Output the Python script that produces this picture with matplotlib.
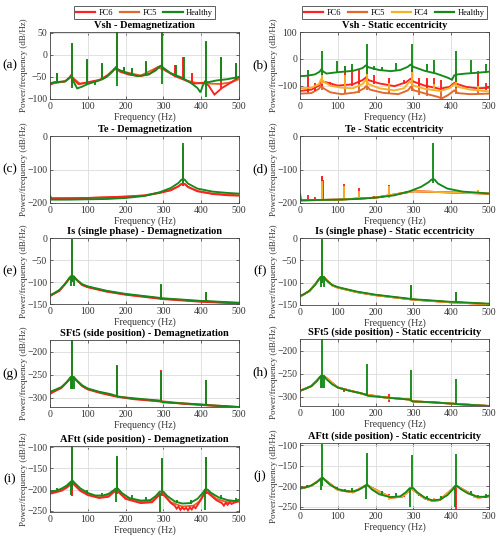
import matplotlib
matplotlib.use("Agg")
import matplotlib.pyplot as plt
from matplotlib.lines import Line2D

plt.rcParams['font.family'] = ['Liberation Serif', 'DejaVu Serif']

# ---------------- data (frequency Hz, dB/Hz) ----------------
SERIES_A = ["FC6", "FC5", "Healthy"]
SERIES_B = ["FC6", "FC5", "FC4", "Healthy"]
XTICKS = [0, 100, 200, 300, 400, 500]

# (a) Vsh - Demagnetization
a_fc6 = [(0,-68),(10,-63),(40,-60),(52,-52),(56,-45),(62,-55),(75,-66),(100,-62),(130,-57),(155,-45),(170,-33),(176,-30),(185,-38),(210,-45),(240,-48),(265,-42),(285,-28),(293,-25),(305,-35),(330,-48),(360,-58),(380,-65),(410,-63),(420,-70),(435,-90),(455,-75),(480,-62),(500,-50)]
a_fc6_spk = [(19,-62,-42),(59,-70,25),(99,-62,-12),(137,-58,-20),(177,-40,52),(196,-40,-27),(217,-48,-32),(255,-45,-13),(295,-35,52),(332,-48,-22),(352,-55,-5),(375,-65,-40),(413,-70,32),(452,-78,-5),(491,-58,-18)]
a_fc5 = [(0,-66),(40,-60),(55,-48),(65,-55),(80,-66),(100,-63),(140,-55),(170,-32),(185,-36),(240,-47),(285,-28),(305,-35),(340,-50),(360,-58),(370,-60),(390,-64),(420,-65),(450,-66),(480,-62),(500,-55)]
a_fc5_spk = [(59,-60,20),(177,-40,45),(295,-35,45),(375,-60,-42),(413,-65,25)]
a_hea = [(0,-65),(10,-62),(40,-60),(52,-52),(56,-47),(62,-60),(72,-76),(85,-72),(100,-66),(130,-58),(150,-50),(165,-38),(174,-28),(180,-33),(200,-40),(230,-48),(260,-45),(280,-35),(292,-25),(298,-28),(320,-42),(350,-52),(375,-65),(390,-75),(398,-85),(404,-70),(410,-60),(418,-62),(440,-58),(470,-55),(500,-50)]
a_hea_spk = [(19,-62,-42),(59,-75,27),(99,-66,-10),(118,-68,-62),(137,-58,-18),(177,-70,55),(196,-40,-27),(217,-45,-30),(255,-45,-15),(295,-65,55),(334,-50,-22),(354,-55,-5),(413,-95,30),(452,-58,-5),(491,-55,-18)]

# (b) Vsh - Static eccentricity
b_fc6 = [(0,-120),(30,-115),(50,-100),(56,-85),(62,-85),(75,-90),(100,-100),(140,-95),(165,-80),(174,-70),(182,-80),(210,-92),(250,-102),(280,-88),(292,-75),(300,-85),(330,-100),(370,-112),(395,-105),(408,-90),(418,-95),(440,-105),(470,-110),(500,-108)]
b_fc6_spk = [(20,-125,-60),(39,-120,-90),(59,-100,-40),(79,-100,-85),(118,-100,-25),(138,-100,-35),(157,-95,-40),(177,-100,-15),(197,-95,-60),(236,-105,-70),(275,-95,-80),(295,-100,-40),(315,-105,-70),(335,-108,-70),(354,-110,-70),(374,-115,-80),(413,-110,-45),(472,-115,-45),(492,-115,-90)]
b_fc5 = [(0,-130),(30,-128),(50,-112),(56,-100),(62,-110),(80,-125),(110,-132),(150,-125),(170,-110),(176,-100),(185,-115),(220,-127),(260,-132),(285,-118),(293,-105),(302,-118),(340,-133),(365,-142),(375,-148),(392,-135),(408,-118),(418,-128),(450,-132),(500,-130)]
b_fc5_spk = [(20,-132,-70),(59,-115,-60),(118,-130,-50),(157,-128,-80),(177,-115,-40),(236,-130,-70),(295,-120,-55),(315,-135,-80),(335,-138,-75),(374,-150,-110),(413,-130,-60),(472,-132,-50)]
b_fc4 = [(0,-110),(30,-108),(50,-95),(56,-75),(62,-85),(80,-100),(110,-108),(140,-110),(165,-95),(174,-80),(182,-95),(210,-110),(250,-118),(275,-110),(290,-85),(300,-100),(330,-112),(370,-120),(395,-110),(408,-95),(418,-105),(450,-115),(500,-122)]
b_fc4_spk = [(59,-95,-50),(118,-110,-60),(177,-100,-20),(236,-118,-90),(295,-100,-45),(354,-120,-95),(413,-105,-55),(472,-118,-100)]
b_hea = [(0,-65),(20,-63),(40,-58),(52,-48),(56,-40),(62,-48),(70,-55),(100,-50),(140,-45),(165,-35),(174,-25),(182,-32),(210,-42),(240,-46),(265,-42),(285,-30),(292,-22),(300,-30),(330,-45),(360,-55),(390,-70),(402,-78),(408,-62),(418,-58),(440,-55),(470,-52),(500,-48)]
b_hea_spk = [(20,-65,-40),(59,-60,28),(99,-52,-10),(118,-50,-25),(138,-47,-20),(177,-55,55),(197,-40,-27),(217,-45,-30),(255,-45,-15),(295,-50,55),(335,-48,-20),(354,-52,-3),(413,-85,30),(453,-55,-5),(492,-52,-18)]

# (c) Te - Demagnetization
c_fc6 = [(0,-180),(3,-186),(50,-186),(100,-185),(150,-183),(200,-181),(250,-178),(290,-170),(320,-162),(340,-150),(348,-143),(356,-143),(365,-152),(390,-165),(430,-173),(470,-177),(500,-178)]
c_fc6_spk = [(352,-150,-35)]
c_fc5 = [(0,-179),(3,-186),(100,-185),(200,-181),(250,-177),(290,-169),(320,-161),(340,-150),(348,-143),(356,-143),(365,-152),(390,-164),(430,-172),(500,-177)]
c_fc5_spk = [(352,-148,-30)]
c_hea = [(0,-178),(3,-190),(50,-190),(100,-189),(150,-188),(200,-185),(250,-179),(290,-168),(320,-155),(340,-140),(348,-130),(356,-130),(365,-142),(390,-157),(430,-166),(470,-170),(500,-172)]
c_hea_spk = [(1,-190,-176),(352,-140,-20)]

# (d) Te - Static eccentricity
d_fc6 = [(3,-192),(100,-190),(200,-184),(300,-165),(500,-172)]
d_fc6_spk = [(20,-190,-175),(40,-190,-183),(57,-192,-118),(58,-192,-120),(60,-190,-130),(117,-190,-143),(157,-190,-155),(197,-188,-180),(236,-186,-145),(470,-172,-160)]
d_fc5 = [(3,-192),(100,-190),(200,-184),(300,-165),(500,-172)]
d_fc5_spk = [(57,-192,-150),(117,-190,-165),(236,-186,-165),(470,-172,-165)]
d_fc4 = [(3,-192),(100,-190),(200,-184),(300,-165),(500,-172)]
d_fc4_spk = [(57,-192,-135),(59,-192,-140),(117,-190,-150),(157,-190,-165),(236,-186,-150),(470,-172,-162)]
d_hea = [(0,-172),(3,-192),(50,-191),(100,-190),(150,-188),(200,-184),(250,-177),(290,-165),(320,-152),(340,-138),(348,-130),(356,-130),(365,-142),(390,-157),(430,-166),(470,-169),(500,-172)]
d_hea_spk = [(352,-140,-20)]

# (e) Is (single phase) - Demagnetization
e_fc6 = [(0,-132),(25,-120),(50,-94),(55,-89),(63,-89),(85,-107),(100,-112),(150,-122),(200,-129),(250,-134),(300,-139),(400,-145),(500,-149)]
e_fc6_spk = [(59,-100,-5),(294,-140,-107),(412,-146,-124)]
e_fc5 = [(0,-131),(25,-119),(50,-93),(55,-88),(63,-88),(85,-106),(100,-111),(150,-121),(200,-128),(250,-133),(300,-138),(400,-144),(500,-148)]
e_fc5_spk = [(59,-100,-4),(294,-139,-106),(412,-145,-123)]
e_hea = [(0,-130),(10,-126),(25,-118),(40,-105),(50,-92),(55,-87),(63,-87),(70,-95),(85,-105),(100,-110),(150,-120),(200,-127),(250,-132),(290,-136),(298,-137),(350,-140),(400,-143),(410,-143),(450,-145),(500,-147)]
e_hea_spk = [(55,-110,-87),(59,-100,-3),(63,-110,-87),(294,-138,-105),(412,-144,-122)]

# (f) Is (single phase) - Static eccentricity
f_fc6 = [(0,-131),(25,-119),(50,-93),(55,-88),(63,-88),(85,-106),(100,-111),(150,-121),(200,-128),(250,-133),(300,-138),(400,-144),(500,-148)]
f_fc6_spk = [(59,-100,-4),(294,-139,-106),(412,-145,-123)]
f_fc5 = [(0,-131),(25,-119),(50,-93),(55,-88),(63,-88),(85,-106),(100,-111),(150,-121),(200,-128),(250,-133),(300,-138),(400,-144),(500,-148)]
f_fc5_spk = [(59,-100,-4),(294,-139,-106),(412,-145,-123)]
f_fc4 = [(0,-131),(25,-119),(50,-93),(55,-88),(63,-88),(85,-106),(100,-111),(150,-121),(200,-128),(250,-133),(300,-138),(400,-144),(500,-148)]
f_fc4_spk = [(59,-100,-4),(294,-139,-106),(412,-145,-123)]
f_hea = [(0,-130),(10,-126),(25,-118),(40,-105),(50,-92),(55,-87),(63,-87),(70,-95),(85,-105),(100,-110),(150,-120),(200,-127),(250,-132),(290,-136),(298,-137),(350,-140),(400,-143),(410,-143),(450,-145),(500,-147)]
f_hea_spk = [(55,-110,-87),(59,-100,-3),(63,-110,-87),(294,-138,-105),(412,-144,-122)]

# (g) SFt5 (side position) - Demagnetization
g_fc6 = [(0,-292),(10,-287),(30,-279),(52,-260),(55,-257),(63,-257),(85,-275),(100,-282),(130,-289),(172,-297),(220,-303),(290,-308),(350,-313),(500,-321)]
g_fc6_spk = [(59,-280,-172),(176,-298,-232),(294,-309,-240),(412,-317,-262)]
g_fc5 = [(0,-290),(10,-286),(30,-278),(52,-259),(55,-256),(63,-256),(85,-274),(100,-281),(130,-288),(172,-296),(220,-302),(290,-307),(350,-312),(500,-320)]
g_fc5_spk = [(59,-280,-172),(176,-298,-232),(294,-309,-242),(412,-317,-263)]
g_hea = [(0,-287),(10,-284),(30,-277),(45,-266),(52,-258),(55,-255),(63,-255),(70,-262),(85,-273),(100,-280),(130,-287),(160,-292),(172,-295),(180,-298),(220,-301),(260,-304),(290,-306),(298,-310),(350,-312),(405,-315),(415,-316),(460,-318),(500,-320)]
g_hea_spk = [(55,-280,-255),(59,-280,-170),(63,-280,-255),(176,-297,-230),(294,-308,-242),(412,-316,-262)]

# (h) SFt5 (side position) - Static eccentricity
h_fc6 = [(0,-287),(10,-284),(30,-277),(52,-258),(63,-255),(100,-280),(172,-295),(220,-301),(290,-306),(298,-310),(350,-312),(405,-315),(460,-318),(500,-320)]
h_fc6_spk = [(1,-292,-272),(117,-290,-284),(236,-312,-295),(355,-314,-310),(470,-319,-315)]
h_fc5 = [(0,-287),(30,-277),(52,-258),(63,-255),(100,-280),(172,-295),(220,-301),(290,-306),(298,-310),(350,-312),(405,-315),(460,-318),(500,-320)]
h_fc5_spk = [(236,-308,-300)]
h_fc4 = [(0,-287),(30,-277),(52,-258),(63,-255),(100,-280),(172,-295),(220,-301),(290,-306),(298,-310),(350,-312),(405,-315),(460,-318),(500,-320)]
h_fc4_spk = [(236,-308,-302)]
h_hea = [(0,-287),(10,-284),(30,-277),(45,-266),(52,-258),(55,-255),(63,-255),(70,-262),(85,-273),(100,-280),(130,-287),(160,-292),(172,-295),(180,-298),(220,-301),(260,-304),(290,-306),(298,-310),(350,-312),(405,-315),(415,-316),(460,-318),(500,-320)]
h_hea_spk = [(55,-282,-255),(59,-282,-170),(63,-282,-255),(176,-297,-230),(294,-308,-242),(412,-316,-262)]

# (i) AFtt (side position) - Demagnetization
i_fc6 = [(0,-210),(30,-203),(45,-195),(57,-186),(61,-186),(80,-203),(100,-213),(130,-220),(155,-217),(170,-205),(180,-205),(200,-222),(240,-232),(270,-230),(290,-212),(300,-212),(320,-232),(330,-238),(335,-245),(340,-240),(345,-248),(350,-242),(355,-247),(360,-243),(365,-249),(370,-242),(375,-247),(380,-240),(385,-244),(395,-230),(410,-208),(418,-208),(440,-225),(455,-232),(460,-238),(465,-231),(470,-236),(475,-230),(480,-234),(490,-230),(500,-228)]
i_fc6_spk = [(59,-215,-100),(177,-210,-122),(295,-215,-128),(413,-210,-125)]
i_fc5 = [(0,-208),(30,-201),(45,-193),(57,-184),(61,-184),(80,-200),(100,-211),(130,-218),(155,-214),(170,-203),(180,-203),(200,-219),(240,-229),(270,-227),(290,-210),(300,-210),(320,-230),(350,-240),(380,-238),(395,-228),(410,-205),(418,-205),(440,-222),(470,-230),(500,-226)]
i_fc5_spk = [(59,-212,-100),(177,-208,-122),(295,-212,-127),(413,-208,-124)]
i_hea = [(0,-205),(15,-203),(30,-198),(45,-190),(53,-183),(57,-180),(61,-180),(66,-185),(80,-197),(100,-208),(120,-214),(140,-214),(155,-210),(168,-202),(173,-198),(180,-198),(190,-208),(210,-220),(240,-226),(265,-225),(280,-215),(290,-205),(300,-205),(310,-215),(330,-228),(350,-233),(370,-232),(390,-222),(405,-207),(410,-200),(417,-200),(425,-207),(445,-218),(470,-225),(490,-227),(500,-224)]
i_hea_spk = [(19,-203,-197),(56,-212,-182),(59,-200,-97),(99,-210,-202),(137,-216,-207),(174,-230,-200),(177,-200,-120),(217,-222,-213),(255,-228,-218),(292,-252,-207),(295,-205,-125),(335,-232,-225),(372,-235,-224),(410,-248,-202),(413,-200,-122),(452,-222,-212),(492,-228,-220)]

# (j) AFtt (side position) - Static eccentricity
j_fc6 = [(0,-206),(30,-199),(57,-181),(61,-181),(100,-209),(140,-215),(173,-199),(180,-199),(240,-228),(270,-226),(295,-206),(330,-230),(350,-236),(370,-234),(410,-201),(417,-201),(470,-228),(500,-225)]
j_fc6_spk = [(118,-214,-208),(236,-230,-220),(275,-227,-220),(315,-225,-218),(354,-238,-228),(413,-255,-200),(472,-230,-222)]
j_fc5 = [(0,-206),(30,-199),(57,-181),(61,-181),(100,-209),(140,-215),(173,-199),(180,-199),(240,-228),(270,-226),(295,-206),(330,-230),(350,-236),(370,-234),(410,-201),(417,-201),(470,-228),(500,-225)]
j_fc5_spk = [(236,-230,-224),(354,-238,-230)]
j_fc4 = [(0,-206),(30,-199),(57,-181),(61,-181),(100,-209),(140,-215),(173,-199),(180,-199),(240,-228),(270,-226),(295,-206),(330,-230),(350,-236),(370,-234),(410,-201),(417,-201),(470,-228),(500,-225)]
j_fc4_spk = [(236,-233,-222),(335,-233,-226),(354,-240,-230),(472,-232,-224),(460,-230,-225)]
j_hea = [(0,-205),(15,-203),(30,-198),(45,-190),(53,-183),(57,-180),(61,-180),(66,-185),(80,-197),(100,-207),(120,-212),(140,-213),(155,-209),(168,-202),(173,-198),(180,-198),(190,-208),(210,-220),(240,-227),(265,-225),(280,-215),(290,-205),(300,-205),(310,-215),(330,-228),(350,-235),(370,-233),(390,-222),(405,-207),(410,-200),(417,-200),(425,-207),(445,-218),(470,-226),(490,-226),(500,-223)]
j_hea_spk = [(19,-203,-197),(56,-210,-182),(59,-200,-97),(99,-208,-201),(137,-214,-205),(174,-232,-200),(177,-200,-118),(217,-222,-212),(255,-227,-216),(292,-250,-207),(295,-205,-123),(335,-232,-224),(372,-235,-224),(410,-252,-202),(413,-200,-122),(452,-222,-212),(492,-228,-218)]

COLORS = {"FC6": "#ff2020", "FC5": "#e2672c", "FC4": "#f6b226", "Healthy": "#15891a"}
ZORDER = {"FC5": 2.1, "FC6": 2.2, "FC4": 2.3, "Healthy": 2.4}

panels = [
    # letter, title, ylim, yticks, series list, box(left, top, right, bottom px)
    ("(a)", "Vsh - Demagnetization", (-100, 52), [-100, -50, 0, 50],
     [("FC6", a_fc6, a_fc6_spk), ("FC5", a_fc5, a_fc5_spk), ("Healthy", a_hea, a_hea_spk)], (50, 32, 239, 99)),
    ("(b)", "Vsh - Static eccentricity", (-150, 100), [-100, 0, 100],
     [("FC6", b_fc6, b_fc6_spk), ("FC5", b_fc5, b_fc5_spk), ("FC4", b_fc4, b_fc4_spk), ("Healthy", b_hea, b_hea_spk)], (300, 32, 489, 99)),
    ("(c)", "Te - Demagnetization", (-200, 0), [-200, -100, 0],
     [("FC6", c_fc6, c_fc6_spk), ("FC5", c_fc5, c_fc5_spk), ("Healthy", c_hea, c_hea_spk)], (50, 136, 239, 203)),
    ("(d)", "Te - Static eccentricity", (-200, 0), [-200, -100, 0],
     [("FC6", d_fc6, d_fc6_spk), ("FC5", d_fc5, d_fc5_spk), ("FC4", d_fc4, d_fc4_spk), ("Healthy", d_hea, d_hea_spk)], (300, 136, 489, 203)),
    ("(e)", "Is (single phase) - Demagnetization", (-150, 0), [-150, -100, -50, 0],
     [("FC6", e_fc6, e_fc6_spk), ("FC5", e_fc5, e_fc5_spk), ("Healthy", e_hea, e_hea_spk)], (50, 238, 239, 304)),
    ("(f)", "Is (single phase) - Static eccentricity", (-150, 0), [-150, -100, -50, 0],
     [("FC6", f_fc6, f_fc6_spk), ("FC5", f_fc5, f_fc5_spk), ("FC4", f_fc4, f_fc4_spk), ("Healthy", f_hea, f_hea_spk)], (300, 238, 489, 305)),
    ("(g)", "SFt5 (side position) - Demagnetization", (-320, -175), [-300, -250, -200],
     [("FC6", g_fc6, g_fc6_spk), ("FC5", g_fc5, g_fc5_spk), ("Healthy", g_hea, g_hea_spk)], (50, 340, 239, 407)),
    ("(h)", "SFt5 (side position) - Static eccentricity", (-320, -175), [-300, -250, -200],
     [("FC6", h_fc6, h_fc6_spk), ("FC5", h_fc5, h_fc5_spk), ("FC4", h_fc4, h_fc4_spk), ("Healthy", h_hea, h_hea_spk)], (300, 339, 489, 406)),
    ("(i)", "AFtt (side position) - Demagnetization", (-253, -97), [-250, -200, -150, -100],
     [("FC6", i_fc6, i_fc6_spk), ("FC5", i_fc5, i_fc5_spk), ("Healthy", i_hea, i_hea_spk)], (50, 446, 239, 512)),
    ("(j)", "AFtt (side position) - Static eccentricity", (-256, -94), [-250, -200, -150, -100],
     [("FC6", j_fc6, j_fc6_spk), ("FC5", j_fc5, j_fc5_spk), ("FC4", j_fc4, j_fc4_spk), ("Healthy", j_hea, j_hea_spk)], (300, 443, 489, 509)),
]

W, H = 500, 541
fig = plt.figure(figsize=(W / 100, H / 100), dpi=100)

LW = 1.35
for letter, title, ylim, yticks, series, (l, t, r, b) in panels:
    ax = fig.add_axes([l / W, 1 - b / H, (r - l) / W, (b - t) / H])
    for name, base, spk in series:
        col = COLORS[name]
        z = ZORDER[name]
        fx, fy = zip(*base)
        ax.plot(fx, fy, color=col, lw=LW, solid_joinstyle='miter', zorder=z)
        if spk:
            sf, lo, hi = zip(*spk)
            ax.vlines(sf, lo, hi, color=col, lw=LW, zorder=z)
    ax.set_xlim(0, 500)
    ax.set_ylim(*ylim)
    ax.set_xticks(XTICKS)
    ax.set_yticks(yticks)
    ax.grid(True, color='#dcdcdc', lw=0.6)
    ax.set_axisbelow(True)
    ax.tick_params(direction='in', length=2, width=0.5, labelsize=7, pad=2,
                   top=True, right=True, colors='#333333')
    for sp in ax.spines.values():
        sp.set_linewidth(0.6)
        sp.set_color('#444444')
        sp.set_zorder(3)
    ax.set_title(title, fontsize=7.5, fontweight='bold', pad=3)
    ax.set_xlabel("Frequency (Hz)", fontsize=7, labelpad=1, color='#333333')
    ax.set_ylabel("Power/frequency (dB/Hz)", fontsize=6.5, color='#333333')
    ax.yaxis.set_label_coords(-0.115, 0.5)
    fig.text((l - 40) / W, 1 - (t + b) / 2 / H, letter, fontsize=9.5,
             ha='center', va='center')
    if letter in ("(a)", "(b)"):
        names = [s[0] for s in series]
        handles = [Line2D([0], [0], color=COLORS[n], lw=1.6) for n in names]
        leg = ax.legend(handles, names, loc='lower center', bbox_to_anchor=(0.5, 1.2),
                        ncol=len(names), fontsize=6, frameon=True, fancybox=False,
                        handlelength=2.3, handletextpad=0.4, columnspacing=0.8,
                        borderpad=0.25, borderaxespad=0.0)
        leg.get_frame().set_edgecolor('#333333')
        leg.get_frame().set_linewidth(0.7)

fig.savefig("out.png", dpi=100)
